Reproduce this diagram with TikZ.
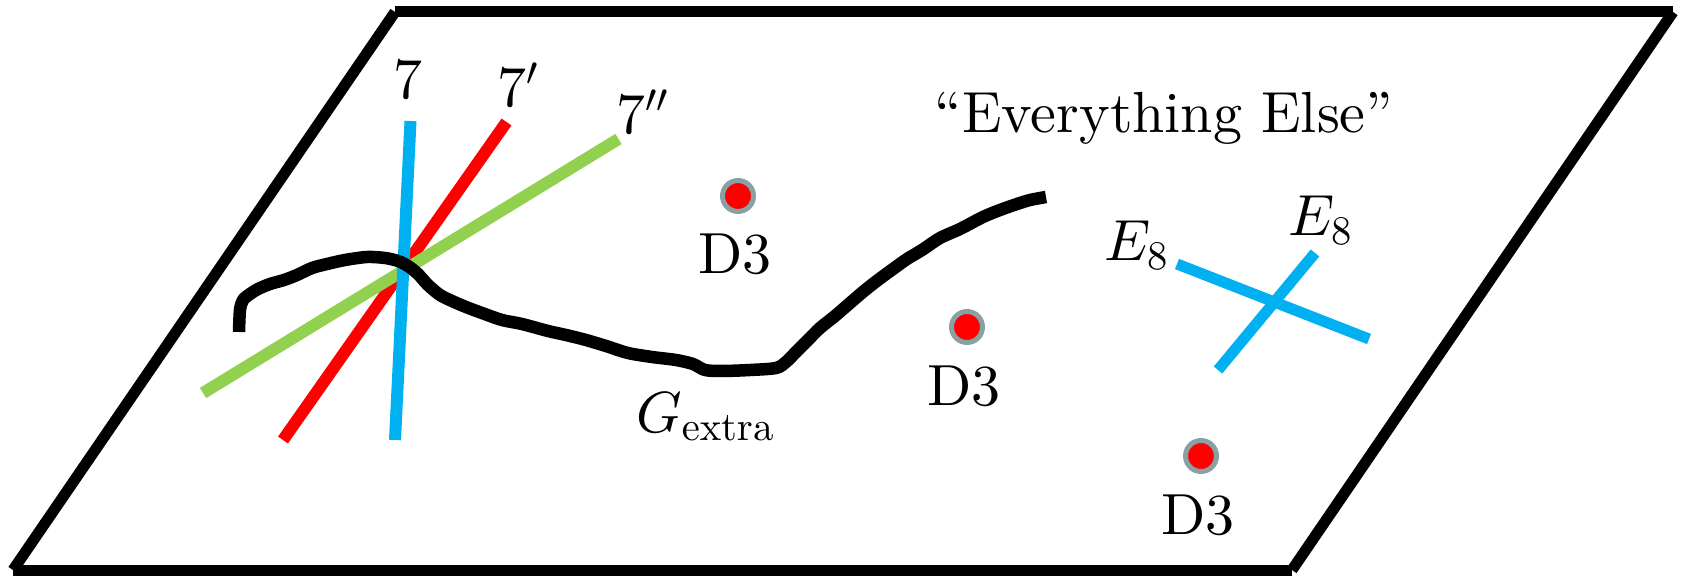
\documentclass[tikz,border=0pt]{standalone}
% scale the 10pt design sizes freely for the large labels
\DeclareFontFamily{TU}{lmr}{}
\DeclareFontShape{TU}{lmr}{m}{n}{<->"[lmroman10-regular]:+tlig;"}{}
\DeclareFontFamily{OT1}{cmr}{\hyphenchar\font45 }
\DeclareFontShape{OT1}{cmr}{m}{n}{<->cmr10}{}
\DeclareFontFamily{OML}{cmm}{\skewchar\font127 }
\DeclareFontShape{OML}{cmm}{m}{it}{<->cmmi10}{}
\DeclareFontFamily{OMS}{cmsy}{\skewchar\font48 }
\DeclareFontShape{OMS}{cmsy}{m}{n}{<->cmsy10}{}
\definecolor{braneblue}{RGB}{0,176,240}
\definecolor{branered}{RGB}{255,0,0}
\definecolor{branegreen}{RGB}{146,208,80}
\definecolor{ringgray}{RGB}{137,160,164}
\begin{document}
\begin{tikzpicture}[x=1pt,y=-1pt,
  edge/.style={line width=11pt, line cap=butt},
  brane/.style={line width=12pt, line cap=butt},
  lbl/.style={inner sep=0pt, font=\fontsize{58}{64}\selectfont},
  dthree/.style={circle, fill=red, draw=ringgray, line width=5pt,
                 minimum size=31pt, inner sep=0pt}
]
\useasboundingbox (0,0) rectangle (1684,577);

% the plane
\coordinate (p1) at (395,12);
\coordinate (p2) at (1673,12);
\coordinate (p3) at (1292,570);
\coordinate (p4) at (13,570);
\draw[edge] (p1) -- (p2);
\draw[edge] (p2) -- (p3);
\draw[edge] (p3) -- (p4);
\draw[edge] (p4) -- (p1);

% intersecting seven-branes
\coordinate (r1) at (506.5,122);
\coordinate (r2) at (283,440);
\coordinate (g1) at (618.5,139);
\coordinate (g2) at (203,393);
\coordinate (b1) at (410.5,121);
\coordinate (b2) at (395,440);
\draw[brane, branered] (r1) -- (r2);
\draw[brane, branegreen] (g1) -- (g2);
\draw[brane, braneblue] (b1) -- (b2);

\node[lbl, anchor=base] (l7) at (407.5,98.5) {$7$};
\node[lbl, anchor=base west] (l7p) at (497,107) {$7'$};
\node[lbl, anchor=base west] (l7pp) at (616,134) {$7''$};

% the extra sector curve
\draw[edge, line width=12.5pt, line join=round] plot[smooth, tension=0.5] coordinates {
  (239,332) (240,310) (243,300) (250,294) (258,289) (270,284) (284,280)
  (297,275) (312,268) (327,264) (345,260) (367,257) (385,258) (398,261)
  (408,266) (418,274) (428,285) (440,295) (452,301) (466,307) (482,313)
  (502,320) (522,324) (548,331) (566,335) (586,340) (606,346) (628,353)
  (652,357) (676,360) (693,364) (705,370) (722,371) (750,370) (776,368)
  (786,362) (796,352) (808,340) (820,328) (835,316) (850,303) (864,291)
  (878,280) (893,269) (907,259) (922,250) (940,238) (960,229) (983,217)
  (1000,210) (1017,204) (1030,200) (1046,197)};
\node[lbl, anchor=base west] (gx) at (636,432) {$G_{\mathrm{extra}}$};

% D3-branes
\node[dthree] (d1) at (738,196) {};
\node[dthree] (d2) at (967,327) {};
\node[dthree] (d3) at (1201,456) {};
\node[lbl, anchor=base] (t1) at (735,274) {D3};
\node[lbl, anchor=base] (t2) at (964,405) {D3};
\node[lbl, anchor=base] (t3) at (1198,534) {D3};

% E8 branes
\coordinate (e1) at (1177,264);
\coordinate (e2) at (1369,339);
\coordinate (f1) at (1315,253);
\coordinate (f2) at (1218,370);
\draw[edge, braneblue] (e1) -- (e2);
\draw[edge, braneblue] (f1) -- (f2);
\node[lbl, anchor=base west] (le1) at (1104,261) {$E_8$};
\node[lbl, anchor=base west] (le2) at (1288,235.5) {$E_8$};

\node[lbl, anchor=base] (else) at (1164,132.5) {“Everything Else”};
\end{tikzpicture}
\end{document}
